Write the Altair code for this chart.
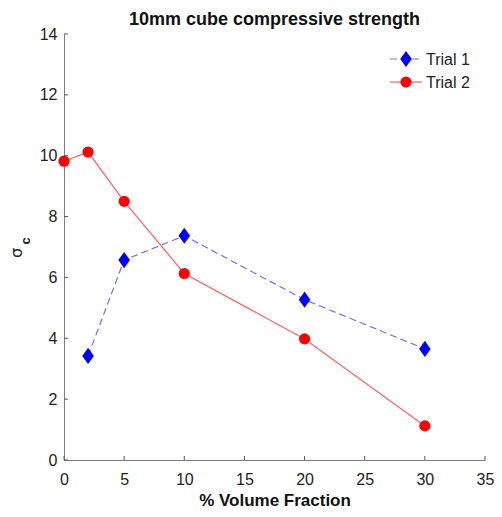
import altair as alt
import pandas as pd

# data
trial1_x = [2, 5, 10, 20, 30]
trial1_y = [3.42, 6.57, 7.37, 5.27, 3.65]
trial2_x = [0, 2, 5, 10, 20, 30]
trial2_y = [9.82, 10.12, 8.50, 6.13, 3.98, 1.12]
x_ticks = [0, 5, 10, 15, 20, 25, 30, 35]
y_ticks = [0, 2, 4, 6, 8, 10, 12, 14]
series_names = ["Trial 1", "Trial 2"]
chart_title = "10mm cube compressive strength"

W, H = 421, 426
FONT = "Liberation Sans"
DIAMOND = "M0,-1L0.72,0L0,1L-0.72,0Z"

d1 = pd.DataFrame({"x": trial1_x, "y": trial1_y})
d2 = pd.DataFrame({"x": trial2_x, "y": trial2_y})

xs = alt.Scale(domain=[0, 35], nice=False)
ys = alt.Scale(domain=[0, 14], nice=False)

X = alt.X("x:Q", scale=xs, axis=alt.Axis(values=x_ticks, title="% Volume Fraction",
                                          tickSize=0, labelPadding=11, labelFlush=False,
                                          titleY=45, titleBaseline="alphabetic"))
Y = alt.Y("y:Q", scale=ys, axis=alt.Axis(values=y_ticks, title=None,
                                          tickSize=0, labelPadding=7, labelFlush=False))

line1 = alt.Chart(d1).mark_line(color="#7070ff", strokeWidth=1.2, strokeDash=[7, 4]).encode(x=X, y=Y)
pts1 = alt.Chart(d1).mark_point(shape=DIAMOND, filled=True, color="#0000ff", opacity=1, size=260).encode(x="x:Q", y="y:Q")
line2 = alt.Chart(d2).mark_line(color="#ff6060", strokeWidth=1.2).encode(x="x:Q", y="y:Q")
pts2 = alt.Chart(d2).mark_point(shape="circle", filled=True, color="#ff0000", opacity=1, size=125).encode(x="x:Q", y="y:Q")

# inward ticks
xt = alt.Chart(pd.DataFrame({"x": x_ticks})).mark_rule(color="#555555", strokeWidth=1).encode(
    x="x:Q", y=alt.value(H), y2=alt.value(H - 4))
yt = alt.Chart(pd.DataFrame({"y": y_ticks})).mark_rule(color="#555555", strokeWidth=1).encode(
    y="y:Q", x=alt.value(0), x2=alt.value(4))

# chart title
ttl = alt.Chart(pd.DataFrame({"t": [chart_title]})).mark_text(
    fontSize=18, font=FONT, fontWeight="bold", color="#111111", align="center", baseline="alphabetic"
).encode(text="t:N", x=alt.value(W / 2), y=alt.value(-9))

# y-axis title sigma_c
sig = alt.Chart(pd.DataFrame({"t": ["σ"]})).mark_text(
    angle=270, fontSize=16, font="DejaVu Sans", color="#222222", align="center", baseline="middle"
).encode(text="t:N", x=alt.value(-47), y=alt.value(219))
sub = alt.Chart(pd.DataFrame({"t": ["c"]})).mark_text(
    angle=270, fontSize=13, font=FONT, fontWeight="bold", color="#222222", align="center", baseline="middle"
).encode(text="t:N", x=alt.value(-38), y=alt.value(207))

# legend
leg = pd.DataFrame({"name": series_names})
lg_l1 = alt.Chart(leg).transform_filter("datum.name == 'Trial 1'").mark_rule(
    color="#7070ff", strokeWidth=1.2, strokeDash=[7, 4]).encode(x=alt.value(326), x2=alt.value(358), y=alt.value(25))
lg_p1 = alt.Chart(leg).transform_filter("datum.name == 'Trial 1'").mark_point(
    shape=DIAMOND, filled=True, color="#0000ff", opacity=1, size=260).encode(x=alt.value(342), y=alt.value(25))
lg_t1 = alt.Chart(leg).transform_filter("datum.name == 'Trial 1'").mark_text(
    align="left", baseline="middle", fontSize=16, font=FONT, color="#222222").encode(
    text="name:N", x=alt.value(362), y=alt.value(26))
lg_l2 = alt.Chart(leg).transform_filter("datum.name == 'Trial 2'").mark_rule(
    color="#ff6060", strokeWidth=1.2).encode(x=alt.value(326), x2=alt.value(358), y=alt.value(48))
lg_p2 = alt.Chart(leg).transform_filter("datum.name == 'Trial 2'").mark_point(
    shape="circle", filled=True, color="#ff0000", opacity=1, size=125).encode(x=alt.value(342), y=alt.value(48))
lg_t2 = alt.Chart(leg).transform_filter("datum.name == 'Trial 2'").mark_text(
    align="left", baseline="middle", fontSize=16, font=FONT, color="#222222").encode(
    text="name:N", x=alt.value(362), y=alt.value(49))

chart = alt.layer(
    line1, line2, pts1, pts2, xt, yt, ttl, sig, sub,
    lg_l1, lg_p1, lg_t1, lg_l2, lg_p2, lg_t2
).properties(
    width=W, height=H,
    autosize=alt.AutoSizeParams(type="none"),
    padding={"left": 56, "top": 26, "right": 9, "bottom": 49},
).configure_view(stroke=None).configure_axis(
    domainColor="#7f7f7f", domainWidth=1, grid=False,
    labelFont=FONT, labelFontSize=16, labelColor="#222222",
    titleFont=FONT, titleFontSize=17, titleFontWeight="bold", titleColor="#111111",
)

chart.save("out.html", embed_options={"renderer": "svg", "actions": False})
